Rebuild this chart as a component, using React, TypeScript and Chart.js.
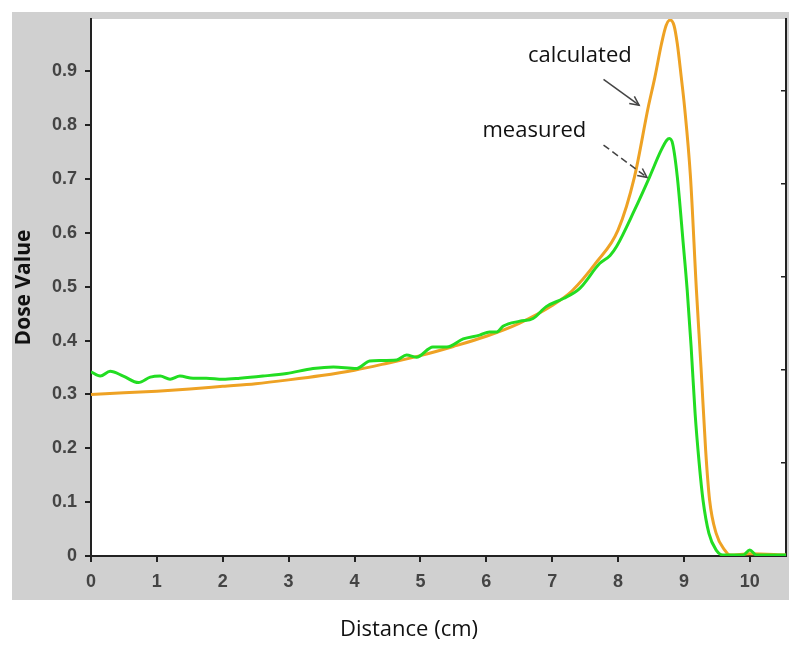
import React, { useEffect, useRef } from "react";
import { Chart, registerables } from "chart.js";

Chart.register(...registerables);

// ---- data ----
const calculatedX = [0, 0.5, 1, 1.5, 2, 2.5, 3, 3.5, 4, 4.5, 5, 5.5, 6, 6.5, 7, 7.3, 7.67, 8.0, 8.25, 8.46, 8.56, 8.66, 8.73, 8.79, 8.85, 8.9, 8.96, 9.01, 9.1, 9.19, 9.26, 9.33, 9.39, 9.49, 9.62, 9.7, 10.0, 10.55];
const calculatedY = [0.300, 0.303, 0.306, 0.310, 0.315, 0.320, 0.327, 0.335, 0.345, 0.358, 0.372, 0.389, 0.408, 0.432, 0.465, 0.492, 0.545, 0.605, 0.704, 0.834, 0.889, 0.951, 0.985, 0.995, 0.985, 0.951, 0.889, 0.834, 0.704, 0.494, 0.35, 0.197, 0.104, 0.042, 0.011, 0.002, 0.004, 0.002];

const measuredX = [0, 0.14, 0.29, 0.49, 0.72, 0.9, 1.05, 1.2, 1.35, 1.55, 1.75, 2.0, 2.26, 2.61, 2.97, 3.37, 3.68, 4.03, 4.23, 4.39, 4.64, 4.79, 4.94, 5.19, 5.4, 5.65, 5.9, 6.05, 6.16, 6.26, 6.51, 6.71, 6.91, 7.17, 7.42, 7.72, 7.88, 7.98, 8.25, 8.48, 8.65, 8.74, 8.78, 8.83, 8.9, 8.99, 9.05, 9.11, 9.17, 9.23, 9.29, 9.38, 9.49, 9.59, 9.9, 10.0, 10.1, 10.55];
const measuredY = [0.342, 0.334, 0.343, 0.334, 0.322, 0.332, 0.334, 0.328, 0.334, 0.330, 0.330, 0.328, 0.330, 0.334, 0.339, 0.348, 0.351, 0.348, 0.362, 0.363, 0.364, 0.373, 0.369, 0.388, 0.388, 0.403, 0.410, 0.416, 0.416, 0.427, 0.436, 0.441, 0.463, 0.478, 0.497, 0.543, 0.558, 0.575, 0.642, 0.704, 0.752, 0.772, 0.775, 0.765, 0.704, 0.580, 0.494, 0.388, 0.265, 0.175, 0.104, 0.042, 0.011, 0.002, 0.002, 0.011, 0.002, 0.002];

const annotationLabels = ["calculated", "measured"];
const annotationLabelX = [7.42, 6.73];
const annotationLabelY = [0.928, 0.789];
const arrowFromX = [7.78, 7.78];
const arrowFromY = [0.885, 0.763];
const arrowToX = [8.32, 8.44];
const arrowToY = [0.837, 0.703];
const arrowDashed = [false, true];

const xTitle = "Distance (cm)";
const yTitle = "Dose Value";

const toPoints = (xs: number[], ys: number[]) => xs.map((x, i) => ({ x, y: ys[i] }));

const panelPlugin = {
  id: "panel",
  beforeDraw(chart: any) {
    const { ctx, chartArea } = chart;
    ctx.save();
    ctx.fillStyle = "#ffffff";
    ctx.fillRect(0, 0, chart.width, chart.height);
    ctx.fillStyle = "#d0d0d0";
    ctx.fillRect(12, 12, 777, 588);
    ctx.fillStyle = "#ffffff";
    ctx.fillRect(chartArea.left, chartArea.top, chartArea.right - chartArea.left, chartArea.bottom - chartArea.top);
    ctx.restore();
  },
};

const annotationPlugin = {
  id: "annot",
  afterDatasetsDraw(chart: any) {
    const { ctx, scales } = chart;
    const xs = scales.x;
    const ys = scales.y;
    ctx.save();
    ctx.fillStyle = "#111";
    ctx.font = "22px 'Open Sans', sans-serif";
    ctx.textAlign = "center";
    ctx.textBaseline = "middle";
    annotationLabels.forEach((t, i) => {
      ctx.fillText(t, xs.getPixelForValue(annotationLabelX[i]), ys.getPixelForValue(annotationLabelY[i]));
    });
    arrowFromX.forEach((_, i) => {
      const x1 = xs.getPixelForValue(arrowFromX[i]);
      const y1 = ys.getPixelForValue(arrowFromY[i]);
      const x2 = xs.getPixelForValue(arrowToX[i]);
      const y2 = ys.getPixelForValue(arrowToY[i]);
      ctx.strokeStyle = "#444";
      ctx.lineWidth = 1.5;
      ctx.setLineDash(arrowDashed[i] ? [7, 4] : []);
      ctx.beginPath();
      ctx.moveTo(x1, y1);
      ctx.lineTo(x2, y2);
      ctx.stroke();
      ctx.setLineDash([]);
      const a = Math.atan2(y2 - y1, x2 - x1);
      const L = 10;
      ctx.beginPath();
      ctx.moveTo(x2 - L * Math.cos(a - 0.45), y2 - L * Math.sin(a - 0.45));
      ctx.lineTo(x2, y2);
      ctx.lineTo(x2 - L * Math.cos(a + 0.45), y2 - L * Math.sin(a + 0.45));
      ctx.stroke();
    });
    ctx.restore();
  },
};

const tickFont = { family: "'Liberation Sans', Arial, sans-serif", size: 18, weight: "bold" as const };

export default function App() {
  const ref = useRef<HTMLCanvasElement>(null);
  useEffect(() => {
    document.body.style.margin = "0";
    const chart = new Chart(ref.current!, {
      type: "line",
      data: {
        datasets: [
          {
            label: "measured",
            data: toPoints(measuredX, measuredY),
            borderColor: "#22dd22",
            borderWidth: 3,
            pointRadius: 0,
            cubicInterpolationMode: "monotone",
          },
          {
            label: "calculated",
            data: toPoints(calculatedX, calculatedY),
            borderColor: "#eea224",
            borderWidth: 3,
            pointRadius: 0,
            cubicInterpolationMode: "monotone",
          },
        ],
      },
      options: {
        animation: false,
        responsive: false,
        layout: { padding: { left: 32, right: 14, top: 19, bottom: 0 } },
        plugins: {
          legend: { display: false },
          tooltip: { enabled: false },
          title: {
            display: true,
            position: "bottom",
            text: xTitle,
            color: "#111",
            font: { family: "'Open Sans', sans-serif", size: 22, weight: "normal" },
            padding: { top: 2, bottom: 9 },
          },
        },
        scales: {
          x: {
            type: "linear",
            min: 0,
            max: 10.55,
            border: { color: "#222", width: 2 },
            grid: { display: true, drawOnChartArea: false, tickLength: 6, color: "#222", lineWidth: 2 },
            ticks: { stepSize: 1, includeBounds: false, color: "#444", font: tickFont, padding: 9, maxRotation: 0, autoSkip: false },
            afterFit: (s: any) => { s.height = 58.6; },
          },
          y: {
            type: "linear",
            min: 0,
            max: 0.997,
            border: { color: "#222", width: 2 },
            grid: { display: true, drawOnChartArea: false, tickLength: 6, color: "#222", lineWidth: 2 },
            ticks: { stepSize: 0.1, includeBounds: false, color: "#444", font: tickFont, padding: 8,
              callback: (v: any) => (Math.round(Number(v) * 10) / 10).toString() },
            title: {
              display: true,
              text: yTitle,
              color: "#111",
              font: { family: "'Open Sans', sans-serif", size: 21, weight: "bold" },
              padding: { top: -20.6, bottom: 0 },
            },
            afterFit: (s: any) => { s.width = 59; },
          },
          y2: {
            type: "linear",
            position: "right",
            min: 0,
            max: 5.77,
            border: { color: "#222", width: 2 },
            grid: { display: true, drawOnChartArea: false, tickLength: -5, color: "#222", lineWidth: 1.5 },
            ticks: { display: false, stepSize: 1, includeBounds: false },
            afterFit: (s: any) => { s.width = 0; },
          },
        },
      } as any,
      plugins: [panelPlugin, annotationPlugin],
    });
    return () => chart.destroy();
  }, []);
  return (
    <div style={{ width: 800, height: 652 }}>
      <canvas ref={ref} width={800} height={652} style={{ display: "block" }} />
    </div>
  );
}
